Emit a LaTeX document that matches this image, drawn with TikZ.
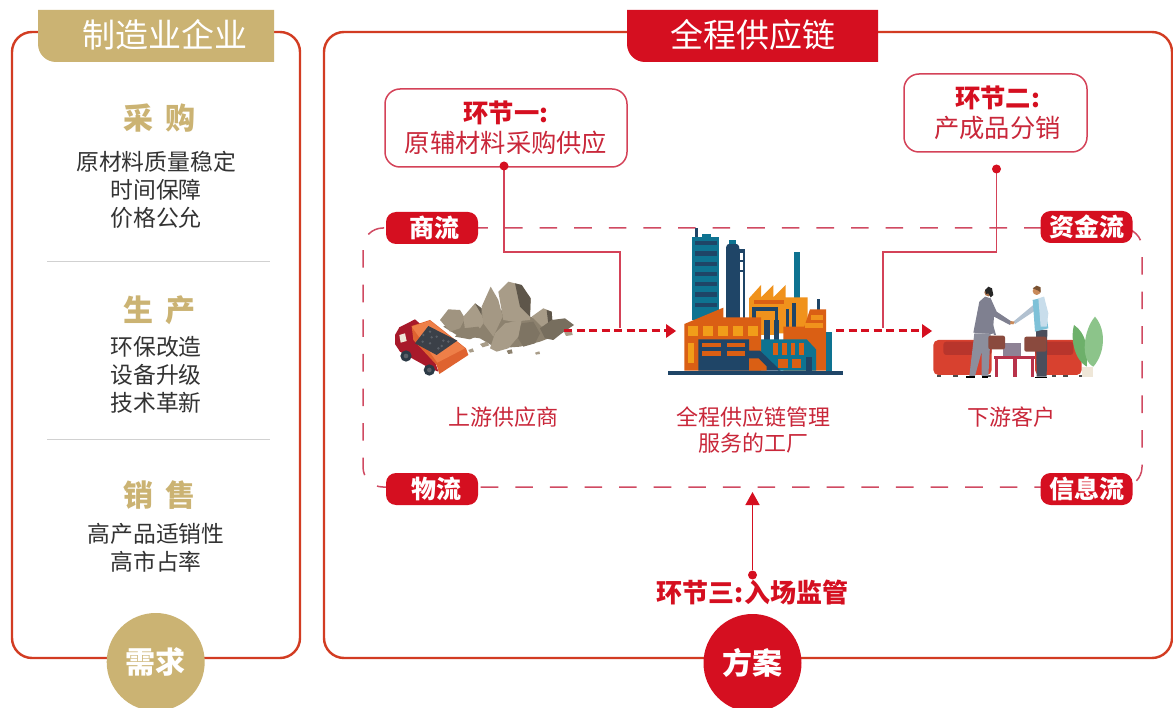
\documentclass[tikz,border=0pt]{standalone}
\usepackage{fontspec}
\setmainfont{Noto Sans CJK SC}
\usetikzlibrary{arrows.meta,calc}
\definecolor{frameRed}{HTML}{D23C22}
\definecolor{mainRed}{HTML}{D50F20}
\definecolor{lineRed}{HTML}{D44258}
\definecolor{dashRed}{HTML}{D04A62}
\definecolor{softRed}{HTML}{C9273A}
\definecolor{gold}{HTML}{CBB373}
\definecolor{txt}{HTML}{333333}
\definecolor{navy}{HTML}{1F4567}
\definecolor{teal1}{HTML}{0E7391}
\definecolor{orA}{HTML}{DA5F14}
\definecolor{orB}{HTML}{F0921C}
\definecolor{rockA}{HTML}{A89C88}
\definecolor{rockB}{HTML}{8C816E}
\definecolor{rockC}{HTML}{5E564A}
\definecolor{cabRed}{HTML}{A8192A}
\definecolor{bedA}{HTML}{EE7F48}
\definecolor{bedB}{HTML}{DF6330}
\definecolor{coal}{HTML}{3B4048}
\definecolor{coalB}{HTML}{5A6068}
\definecolor{wheel}{HTML}{2C3A46}
\definecolor{sofaA}{HTML}{D8412F}
\definecolor{sofaB}{HTML}{B8352C}
\definecolor{tableC}{HTML}{B8324A}
\definecolor{laptop}{HTML}{8E8295}
\definecolor{suit}{HTML}{7F8090}
\definecolor{suitB}{HTML}{8C8E9C}
\definecolor{shirt}{HTML}{C8DDEB}
\definecolor{vest}{HTML}{7EC1D8}
\definecolor{trouser}{HTML}{4A4E5C}
\definecolor{caseC}{HTML}{8A4A3E}
\definecolor{skinA}{HTML}{A8704A}
\definecolor{skinB}{HTML}{C98A5A}
\definecolor{hairB}{HTML}{7A5232}
\definecolor{leafA}{HTML}{6DB06A}
\definecolor{leafB}{HTML}{8CC48A}
\definecolor{pot}{HTML}{EFE7D8}
\tikzset{
  outerframe/.style={draw=frameRed,line width=2.4pt,rounded corners=20pt},
  tabtext/.style={text=white,font=\fontsize{33}{33}\selectfont},
  headtxt/.style={text=gold,font=\fontsize{30}{30}\selectfont\bfseries},
  bodytxt/.style={text=txt,font=\fontsize{22.8}{28}\selectfont,align=center},
  captxt/.style={text=softRed,font=\fontsize{22}{26.5}\selectfont,align=center},
  seprule/.style={draw=black!18,line width=.8pt},
  stagebox/.style={draw=lineRed,line width=1.5pt,fill=white,rounded corners=15pt,inner sep=0pt,align=center,text=softRed,font=\fontsize{25.3}{30}\selectfont},
  pill/.style={fill=mainRed,text=white,rounded corners=10pt,minimum width=92pt,minimum height=32pt,inner sep=0pt,font=\fontsize{25}{25}\selectfont\bfseries},
  badge/.style={circle,minimum size=98pt,inner sep=0pt,text=white,font=\fontsize{30}{30}\selectfont\bfseries},
  reddot/.style={circle,fill=mainRed,minimum size=9pt,inner sep=0pt},
  thinline/.style={draw=lineRed,line width=1.5pt},
  flowline/.style={draw=mainRed,line width=3pt,dash pattern=on 8pt off 4.5pt},
  flowtip/.style={fill=mainRed,draw=none},
  dashbox/.style={draw=dashRed,line width=1.5pt,dash pattern=on 17.6pt off 17pt,rounded corners=20pt},
}
\begin{document}
\begin{tikzpicture}[x=1pt,y=-1pt]
\useasboundingbox (0,0) rectangle (1173,708);
\fill[white] (0,0) rectangle (1173,708);

% outer frames
\draw[outerframe] (12,32) rectangle (300,658);
\draw[outerframe] (324,32) rectangle (1172,658);

% tabs
\fill[gold] (38,10) -- (274,10) -- (274,62) -- (56,62) .. controls (46,62) and (38,54) .. (38,44) -- cycle;
\node[tabtext] (tabL) at (165,35) {制造业企业};
\fill[mainRed] (627,10) -- (878,10) -- (878,62) -- (645,62) .. controls (635,62) and (627,54) .. (627,44) -- cycle;
\node[tabtext] (tabR) at (753,35) {全程供应链};

% left column
\node[headtxt] (h1) at (159,118) {采\hspace{12pt}购};
\node[bodytxt] (b1) at (156,190) {原材料质量稳定\\时间保障\\价格公允};
\draw[seprule] (47,261) -- (270,261);
\node[headtxt] (h2) at (159,310) {生\hspace{12pt}产};
\node[bodytxt] (b2) at (156,375) {环保改造\\设备升级\\技术革新};
\draw[seprule] (47,439) -- (270,439);
\node[headtxt] (h3) at (159,495) {销\hspace{12pt}售};
\node[bodytxt] (b3) at (156,548) {高产品适销性\\高市占率};
\node[badge,fill=gold] (need) at (155.7,662) {\raisebox{2pt}{需求}};

% dashed frame
\draw[dashbox] (485,228) -- (1142,228) -- (1142,487) -- (363,487) -- (363,228) -- cycle;

% factory
\begin{scope}[xshift=650pt,yshift=-220pt,x=.33333pt,y=-.33333pt]
\fill[navy] (136,25) rectangle (144,55);
\fill[teal1] (155,42) rectangle (183,55);
\fill[teal1] (127,52) rectangle (208,300);
\foreach \yy in {63,94,125,155,186,217,248}{\fill[navy] (135,\yy) rectangle (200,\yy+13);}
\fill[navy] (228,300) -- (228,85) .. controls (228,75) and (235,70) .. (243,70) -- (253,70) .. controls (261,70) and (268,75) .. (268,85) -- (268,300) -- cycle;
\fill[teal1] (238,60) rectangle (258,72);
\fill[navy] (268,88) rectangle (286,300);
\fill[white] (270,98) rectangle (278,120);
\fill[white] (270,127) rectangle (278,150);
\fill[white] (270,155) rectangle (278,295);
\fill[teal1] (433,97) rectangle (449,235);
\fill[orB] (297,235) -- (333,195) -- (333,232) -- (370,195) -- (370,232) -- (407,195) -- (407,232) -- (473,232) -- (473,340) -- (297,340) -- cycle;
\fill[orA] (312,240) rectangle (402,252);
\fill[navy] (307,262) rectangle (385,345);
\fill[orB] (317,272) rectangle (375,345);
\fill[navy] (343,300) rectangle (360,360);
\fill[navy] (372,300) rectangle (388,360);
\fill[navy] (407,268) rectangle (418,325);
\fill[navy] (427,250) rectangle (437,325);
\fill[navy] (501,238) rectangle (510,270);
\fill[orA] (400,320) -- (463,320) -- (480,268) -- (528,268) -- (528,452) -- (400,452) -- cycle;
\fill[orB] (482,285) rectangle (520,300);
\fill[orB] (465,310) rectangle (520,325);
\fill[teal1] (528,336) rectangle (547,452);
\fill[teal1] (333,358) -- (470,358) -- (498,388) -- (498,452) -- (385,452) -- (333,400) -- cycle;
\foreach \xx in {370,396,422,448}{\fill[orA] (\xx,368) rectangle (\xx+14,405);}
\fill[orA] (385,416) rectangle (413,444);
\fill[orA] (425,416) rectangle (453,444);
\fill[navy] (468,412) rectangle (487,452);
\fill[orA] (103,312) -- (220,263) -- (220,292) -- (333,292) -- (333,452) -- (103,452) -- cycle;
\foreach \xx in {113,158,203,248,293}{\fill[orB!90!yellow] (\xx,318) rectangle (\xx+30,348);}
\fill[orB!90!yellow] (113,368) rectangle (132,428);
\fill[navy] (145,358) -- (297,358) -- (297,392) -- (330,392) -- (392,452) -- (145,452) -- cycle;
\foreach \xx/\yy in {157/368,230/368,157/394,230/394}{\fill[orA] (\xx,\yy) rectangle (\xx+56,\yy+14);}
\fill[orA] (297,415) -- (325,415) -- (350,440) -- (350,452) -- (297,452) -- cycle;
\fill[navy] (55,452) rectangle (580,465);
\end{scope}

% rocks and truck
\begin{scope}[xshift=380pt,yshift=-220pt,x=.33333pt,y=-.33333pt]
\fill[rockB] (190,320) -- (255,290) -- (310,270) -- (360,270) -- (450,290) -- (520,310) -- (545,340) -- (480,365) -- (420,380) -- (350,385) -- (300,355) -- (230,345) -- cycle;
\fill[rockA] (355,215) -- (385,185) -- (425,195) -- (452,235) -- (450,300) -- (400,305) -- (370,300) -- cycle;
\fill[rockC] (405,190) -- (425,195) -- (452,235) -- (450,290) -- (420,260) -- cycle;
\fill[rockA!70!rockB] (180,300) -- (205,268) -- (240,270) -- (255,295) -- (240,325) -- (210,335) -- cycle;
\fill[rockA] (250,290) -- (285,250) -- (305,265) -- (310,310) -- (290,340) -- (255,330) -- cycle;
\fill[rockC!80!rockB] (285,250) -- (305,265) -- (305,285) -- cycle;
\fill[rockA!85!rockB] (305,260) -- (332,200) -- (355,240) -- (368,290) -- (340,350) -- (310,310) -- cycle;
\fill[rockB] (225,350) -- (250,325) -- (295,320) -- (310,340) -- (270,358) -- cycle;
\fill[rockA] (455,290) -- (490,265) -- (515,275) -- (518,315) -- (485,320) -- cycle;
\fill[rockC] (500,270) -- (515,275) -- (518,315) -- (505,312) -- cycle;
\fill[rockB!85!black] (480,325) -- (515,300) -- (555,295) -- (582,315) -- (545,340) -- (520,360) -- (495,355) -- cycle;
\fill[rockB!90!black] (405,340) -- (425,310) -- (460,305) -- (480,340) -- (465,370) -- (430,380) -- cycle;
\fill[rockA] (330,385) -- (345,340) -- (375,310) -- (425,300) -- (415,350) -- (385,385) -- (350,395) -- cycle;
\fill[rockA] (300,372) -- (320,365) -- (328,376) -- (308,382) -- cycle;
\fill[rockA] (265,390) -- (278,385) -- (282,395) -- (270,398) -- cycle;
\fill[rockB] (380,392) -- (395,388) -- (398,400) -- (385,402) -- cycle;
\fill[rockA] (465,398) -- (478,394) -- (480,402) -- (468,404) -- cycle;
\fill[rockA] (552,335) -- (575,330) -- (578,345) -- (558,348) -- cycle;
\fill[cabRed] (45,345) -- (58,322) -- (105,298) -- (130,320) -- (175,455) -- (150,445) -- (60,395) -- (45,372) -- cycle;
\fill[pot] (58,345) -- (75,340) -- (80,363) -- (62,368) -- cycle;
\fill[bedB] (95,318) -- (150,300) -- (258,385) -- (265,405) -- (178,462) -- (170,435) -- (100,360) -- cycle;
\fill[bedA] (95,320) -- (150,302) -- (255,385) -- (172,428) -- cycle;
\fill[coal] (105,370) -- (145,318) -- (232,362) -- (170,405) -- cycle;
\foreach \xx/\yy in {130/345,150/335,170/350,190/362,150/370,175/385,128/365,205/365,155/352,185/378}{\fill[coalB] (\xx,\yy) circle (4);}
\fill[wheel] (78,408) circle (17);
\fill[coalB] (78,408) circle (7);
\fill[wheel] (148,450) circle (17);
\fill[coalB] (148,450) circle (7);
\end{scope}

% people
\begin{scope}[xshift=920pt,yshift=-270pt,x=.33333pt,y=-.33333pt]
\fill[sofaA,rounded corners=5pt] (40,210) rectangle (215,315);
\fill[sofaB,rounded corners=3pt] (70,215) rectangle (215,255);
\fill[sofaA,rounded corners=5pt] (345,210) rectangle (485,315);
\fill[sofaB,rounded corners=3pt] (345,215) rectangle (460,255);
\foreach \xx in {50,100,150,200,395,430,478}{\fill[black!70] (\xx,315) rectangle (\xx+14,321);}
\fill[tableC] (222,258) rectangle (345,268);
\foreach \xx in {225,280,332}{\fill[tableC] (\xx,268) rectangle (\xx+10,320);}
\fill[laptop] (248,220) rectangle (303,258);
% left man
\fill[suitB] (163,190) -- (212,190) -- (205,318) -- (185,318) -- (185,245) -- (165,318) -- (148,318) -- cycle;
\fill[suit] (160,188) -- (178,95) -- (195,80) -- (212,85) -- (230,125) -- (275,155) -- (270,165) -- (222,140) -- (218,192) -- cycle;
\fill[suit] (208,160) -- (218,160) -- (228,195) -- (222,195) -- cycle;
\fill[skinA] (205,67) circle (12);
\fill[black!85] (195,60) -- (205,50) -- (216,55) -- (220,75) -- (212,82) -- (205,70) -- (198,72) -- cycle;
\fill[black] (138,318) rectangle (165,323);
\fill[black] (185,318) rectangle (204,323);
\fill[caseC,rounded corners=2pt] (205,197) rectangle (255,238);
% right man
\fill[trouser] (348,180) -- (382,180) -- (380,320) -- (350,320) -- cycle;
\fill[shirt!70!suit] (280,155) -- (340,105) -- (345,122) -- (285,162) -- cycle;
\fill[vest] (338,90) -- (372,82) -- (385,175) -- (345,185) -- cycle;
\fill[shirt] (355,85) -- (372,80) -- (385,130) -- (380,170) -- (362,170) -- cycle;
\fill[skinB] (350,63) circle (12);
\fill[hairB] (338,55) -- (350,47) -- (362,52) -- (362,68) -- (355,62) -- cycle;
\fill[black] (345,320) rectangle (380,325);
\fill[caseC,rounded corners=2pt] (313,200) rectangle (380,245);
\fill[skinB] (272,153) -- (284,155) -- (280,163) -- (270,162) -- cycle;
% plant
\fill[leafA] (462,165) .. controls (500,190) and (505,240) .. (500,290) .. controls (465,270) and (450,210) .. (462,165) -- cycle;
\fill[leafB] (525,140) .. controls (560,180) and (555,250) .. (520,290) .. controls (480,270) and (490,180) .. (525,140) -- cycle;
\fill[pot] (487,292) rectangle (520,322);
\end{scope}

% stage boxes
\node[stagebox,minimum width=242pt,minimum height=78pt] (s1) at (506,128)
  {{\bfseries\textcolor{mainRed}{环节一:}}\\原辅材料采购供应};
\node[stagebox,minimum width=183pt,minimum height=78pt] (s2) at (995.5,113)
  {{\bfseries\textcolor{mainRed}{\hspace*{4pt}环节二:}}\\\hspace*{4pt}产成品分销};

\coordinate (d1) at (504,166);
\coordinate (d2) at (996.5,169);
\coordinate (d1a) at (504,252);
\coordinate (d1b) at (620,252);
\coordinate (d1c) at (620,328);
\coordinate (d2a) at (996.5,252);
\coordinate (d2b) at (883,252);
\coordinate (d2c) at (883,328);
\draw[thinline] (d1) -- (d1a) -- (d1b) -- (d1c);
\draw[thinline] (d2) -- (d2a) -- (d2b) -- (d2c);
\node[reddot] (dot1) at (d1) {};
\node[reddot] (dot2) at (d2) {};

% flows
\coordinate (f1) at (564,331);
\coordinate (f2) at (666,331);
\coordinate (f3) at (836,331);
\coordinate (f4) at (922,331);
\draw[flowline] (f1) -- (f2);
\draw[flowline] (f3) -- (f4);
\fill[flowtip] (666,324) -- (676,331) -- (666,338) -- cycle;
\fill[flowtip] (922,324) -- (932,331) -- (922,338) -- cycle;

% pills
\node[pill] (p1) at (432,228) {\hspace*{5pt}商流};
\node[pill] (p2) at (1086.5,227) {资金流};
\node[pill] (p3) at (432,489) {\hspace*{8pt}物流};
\node[pill] (p4) at (1086.5,489) {信息流};

% captions
\node[captxt] (c1) at (503,417) {上游供应商};
\node[captxt] (c2) at (753,430) {全程供应链管理\\服务的工厂};
\node[captxt] (c3) at (1011,417) {下游客户};

% stage three
\node[reddot] (dot3) at (752.5,575) {};
\coordinate (top3) at (752.5,492);
\draw[draw=mainRed,line width=1.5pt,-{Triangle[length=13pt,width=14pt]}] (dot3) -- (top3);
\node[text=mainRed,font=\fontsize{26}{26}\selectfont\bfseries] (s3) at (752.5,593) {环节三:入场监管};
\node[badge,fill=mainRed] (plan) at (752.5,663) {方案};
\end{tikzpicture}
\end{document}
